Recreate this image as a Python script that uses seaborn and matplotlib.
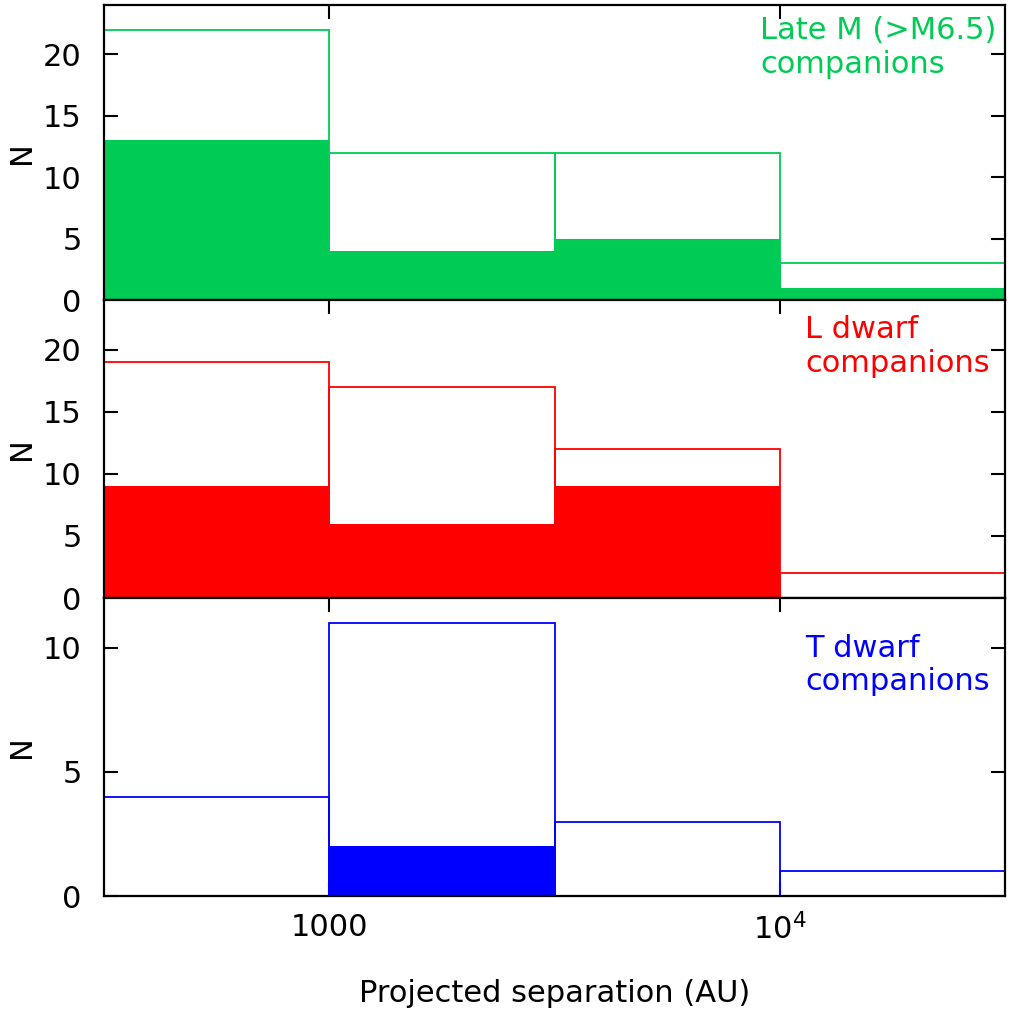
import numpy as np
import pandas as pd
import matplotlib
matplotlib.use('Agg')
import matplotlib.pyplot as plt
from matplotlib.ticker import NullLocator, FixedLocator
import seaborn as sns

# half-decade bins in projected separation (AU)
bin_edges = [10**2.5, 1000, 10**3.5, 10**4, 10**4.5]
bin_centres = [10**2.75, 10**3.25, 10**3.75, 10**4.25]

# counts per bin: open histogram (all) and filled histogram (subset)
lateM_all = [22, 12, 12, 3]
lateM_sub = [13, 4, 5, 1]
L_all = [19, 17, 12, 2]
L_sub = [9, 6, 9, 0]
T_all = [4, 11, 3, 1]
T_sub = [0, 2, 0, 0]

panel_labels = ['Late M (>M6.5)\ncompanions', 'L dwarf\ncompanions', 'T dwarf\ncompanions']
panel_colors = ['#00cc55', '#ff0000', '#0000ff']
y_max = [24, 24, 12]
y_ticks = [[0, 5, 10, 15, 20], [0, 5, 10, 15, 20], [0, 5, 10]]
x_ticks = [1000, 10000]
x_ticklabels = ['1000', '$10^4$']

sns.set_style('ticks')
plt.rcParams['font.family'] = ['DejaVu Sans']
plt.rcParams['mathtext.fontset'] = 'dejavusans'

FS = 22
W, H = 1009, 1011
fig = plt.figure(figsize=(W / 100, H / 100), dpi=100)

# panel boundaries in pixels (top -> bottom)
left_px, right_px = 104, 1005
bounds_px = [5, 300, 598, 896]

all_counts = [lateM_all, L_all, T_all]
sub_counts = [lateM_sub, L_sub, T_sub]
text_pos = [(0.728, 0.962), (0.778, 0.948), (0.778, 0.880)]

axes = []
for i in range(3):
    top, bot = bounds_px[i], bounds_px[i + 1]
    ax = fig.add_axes([left_px / W, 1 - bot / H, (right_px - left_px) / W, (bot - top) / H])
    c = panel_colors[i]

    # open histogram (outline)
    sns.histplot(x=bin_centres, weights=all_counts[i], bins=bin_edges, element='bars',
                 fill=False, color=c, linewidth=1.3, ax=ax)
    # filled histogram on top
    sns.histplot(x=bin_centres, weights=sub_counts[i], bins=bin_edges, element='bars',
                 fill=True, color=c, alpha=1, linewidth=0, ax=ax)

    ax.set_xscale('log')
    ax.set_xlim(bin_edges[0], bin_edges[-1])
    ax.set_ylim(0, y_max[i])
    ax.xaxis.set_major_locator(FixedLocator(x_ticks))
    ax.xaxis.set_minor_locator(NullLocator())
    ax.yaxis.set_minor_locator(NullLocator())
    ax.set_yticks(y_ticks[i])

    for sp in ax.spines.values():
        sp.set_visible(True)
        sp.set_linewidth(1.6)
        sp.set_color('black')
    ax.tick_params(axis='both', which='major', direction='in', top=True, right=True,
                   length=10, width=1.5, colors='black', labelsize=FS)
    ax.tick_params(axis='y', pad=16)
    ax.tick_params(axis='x', pad=12)

    if i < 2:
        ax.set_xticklabels([])
        ax.set_xlabel('')
    else:
        ax.set_xticklabels(x_ticklabels)
        ax.set_xlabel('Projected separation (AU)', fontsize=FS, color='black', labelpad=24)

    ax.set_ylabel('N', fontsize=FS, color='black')
    ax.yaxis.set_label_coords(-0.075, 0.5)

    ax.text(text_pos[i][0], text_pos[i][1], panel_labels[i], transform=ax.transAxes,
            ha='left', va='top', color=c, fontsize=FS, linespacing=1.2)
    axes.append(ax)

fig.savefig('out.png', dpi=100)
